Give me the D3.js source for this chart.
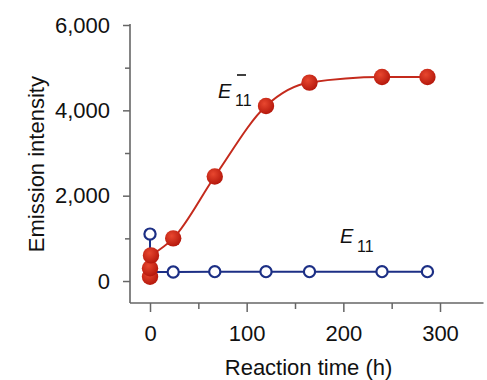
<!DOCTYPE html>
<html><head><meta charset="utf-8">
<script src="https://cdn.jsdelivr.net/npm/d3@7"></script>
<style>body{margin:0;background:#fff}svg{display:block}text{font-family:"Liberation Sans",Arial,sans-serif}</style>
</head><body><svg id="c" width="487" height="380"></svg>
<script>
// Data
const redTime = [0, 0, 1, 24, 67, 120, 165, 240, 287];
const redVal  = [100, 300, 600, 1000, 2450, 4100, 4650, 4780, 4780];
const blueTime = [0, 0, 24, 67, 120, 165, 240, 287];
const blueVal  = [1100, 210, 210, 220, 220, 220, 220, 220];
const xMajor = [0, 100, 200, 300];
const xMinor = [50, 150, 250];
const yMajor = [0, 2000, 4000, 6000];
const yMinor = [1000, 3000, 5000];

const svg = d3.select("#c");
const x = d3.scaleLinear().domain([-20.7, 345]).range([130, 483.5]);
const y = d3.scaleLinear().domain([-515, 6000]).range([303, 25]);
const axisColor = "#666";
const FS = 22;

const defs = svg.append("defs");
const g = defs.append("radialGradient").attr("id","rg").attr("cx","40%").attr("cy","35%").attr("r","65%");
g.append("stop").attr("offset","0%").attr("stop-color","#e8472f");
g.append("stop").attr("offset","100%").attr("stop-color","#b5180c");

// Y axis
svg.append("g").attr("transform","translate(130,0)")
  .call(d3.axisLeft(y).tickValues(yMajor).tickSize(7).tickPadding(13).tickFormat(d3.format(",")));
svg.append("g").attr("transform","translate(130,0)")
  .call(d3.axisLeft(y).tickValues(yMinor).tickSize(5).tickFormat(""));
// X axis
svg.append("g").attr("transform","translate(0,303)")
  .call(d3.axisBottom(x).tickValues(xMajor).tickSize(9).tickPadding(13));
svg.append("g").attr("transform","translate(0,303)")
  .call(d3.axisBottom(x).tickValues(xMinor).tickSize(6).tickFormat(""));
svg.selectAll(".domain").remove();
svg.append("line").attr("x1",130).attr("x2",130).attr("y1",y(6000)-1).attr("y2",303)
  .attr("stroke",axisColor).attr("stroke-width",1.6);
svg.append("line").attr("x1",130).attr("x2",x(345)).attr("y1",303).attr("y2",303)
  .attr("stroke",axisColor).attr("stroke-width",1.6);
svg.selectAll(".tick line").attr("stroke",axisColor).attr("stroke-width",1.5);
svg.selectAll(".tick text").attr("font-size",FS).attr("fill","#111")
  .attr("font-family","'Liberation Sans', Arial, sans-serif");

// Axis titles
svg.append("text").attr("x",x(164)).attr("y",375).attr("text-anchor","middle")
  .attr("font-size",FS).attr("fill","#111").text("Reaction time (h)");
svg.append("text").attr("transform",`translate(44,${y(2740)}) rotate(-90)`).attr("text-anchor","middle")
  .attr("font-size",FS).attr("fill","#111").text("Emission intensity");

// Blue line
const blue = blueTime.map((t,i)=>({t, v:blueVal[i]}));
svg.append("path").datum(blue)
  .attr("d", d3.line().x(d=>x(d.t)).y(d=>y(d.v)))
  .attr("fill","none").attr("stroke","#1c2f85").attr("stroke-width",2);

// Red line (curve)
const red = redTime.map((t,i)=>({t, v:redVal[i]}));
const redCurve = red.slice(2);
svg.append("path").datum(redCurve)
  .attr("d", d3.line().curve(d3.curveMonotoneX).x(d=>x(d.t)).y(d=>y(d.v)))
  .attr("fill","none").attr("stroke","#c42a1c").attr("stroke-width",2);

svg.selectAll(".bp").data(blue).enter().append("circle")
  .attr("cx",d=>x(d.t)).attr("cy",d=>y(d.v)).attr("r",5.6)
  .attr("fill","#fff").attr("stroke","#1c2f85").attr("stroke-width",2.2);

svg.selectAll(".rp").data(red).enter().append("circle")
  .attr("cx",d=>x(d.t)).attr("cy",d=>y(d.v)).attr("r",8.2)
  .attr("fill","url(#rg)");

// Labels
svg.append("text").attr("x",218).attr("y",98).attr("font-size",20).attr("font-style","italic").attr("fill","#111").text("E");
svg.append("text").attr("x",235).attr("y",106).attr("font-size",16).attr("fill","#111").text("11");
svg.append("line").attr("x1",237).attr("x2",246).attr("y1",75).attr("y2",75).attr("stroke","#111").attr("stroke-width",1.6);
svg.append("text").attr("x",340).attr("y",243).attr("font-size",20).attr("font-style","italic").attr("fill","#111").text("E");
svg.append("text").attr("x",357).attr("y",252).attr("font-size",16).attr("fill","#111").text("11");
</script></body></html>
